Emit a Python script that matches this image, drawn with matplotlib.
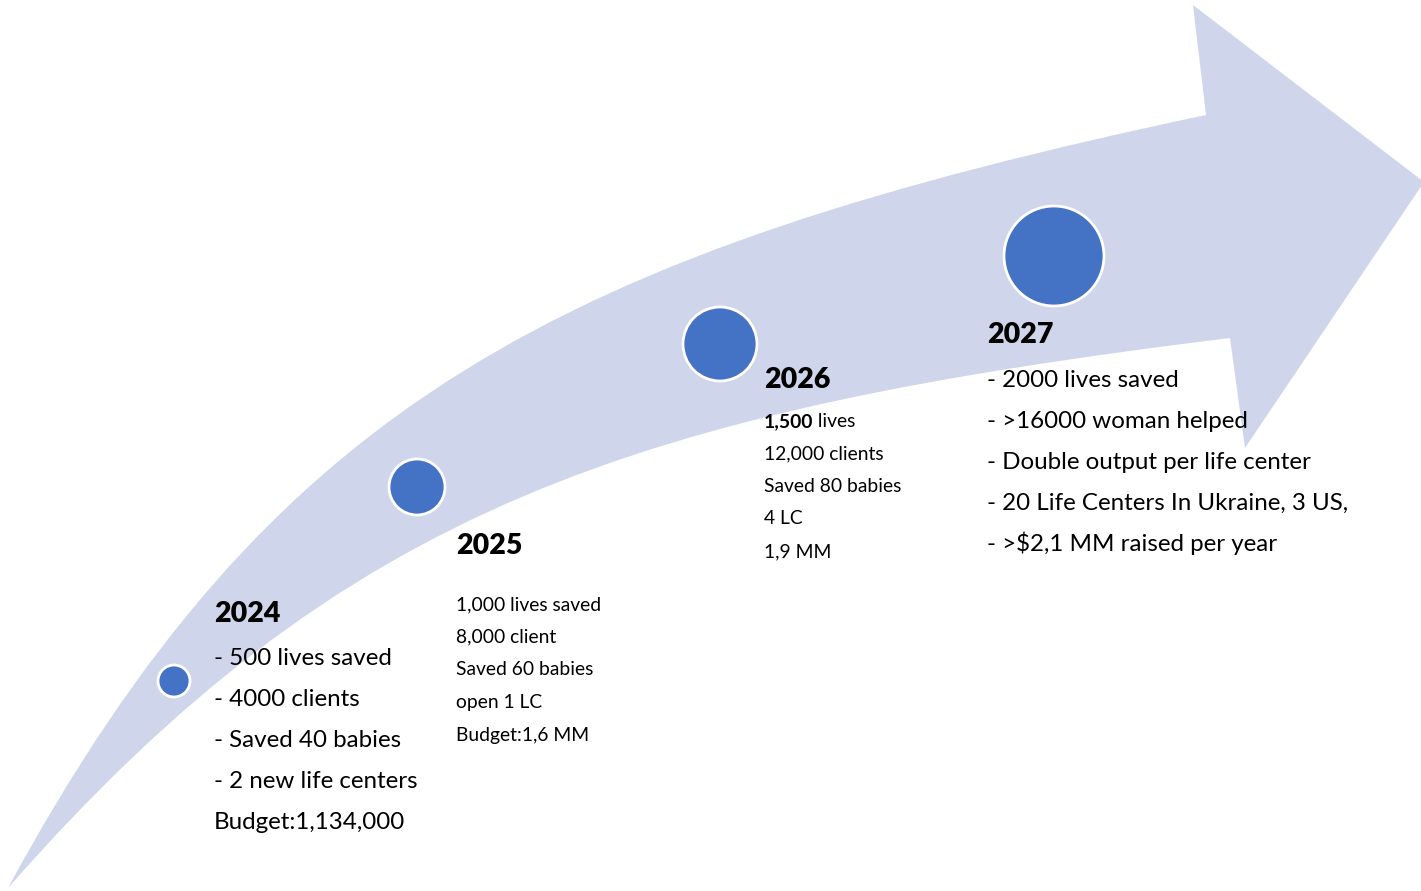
import matplotlib.pyplot as plt
from matplotlib.path import Path
from matplotlib.patches import PathPatch, Circle

plt.rcParams['font.family'] = ['Lato', 'DejaVu Sans']

# roadmap content
years = ['2024', '2025', '2026', '2027']
goals_2024 = ['- 500 lives saved', '- 4000 clients', '- Saved 40 babies',
              '- 2 new life centers', 'Budget:1,134,000']
goals_2025 = ['1,000 lives saved', '8,000 client', 'Saved 60 babies',
              'open 1 LC', 'Budget:1,6 MM']
goals_2026 = ['1,500| lives', '12,000 clients', 'Saved 80 babies', '4 LC', '1,9 MM']
goals_2027 = ['- 2000 lives saved', '- >16000 woman helped',
              '- Double output per life center',
              '- 20 Life Centers In Ukraine, 3 US,', '- >$2,1 MM raised per year']
goals = [goals_2024, goals_2025, goals_2026, goals_2027]

# layout (pixel space)
dot_x = [174, 417, 720, 1054]
dot_y = [681, 487, 344, 256]
dot_r = [16, 28, 37, 50]
head_x = [214, 456, 764, 987]
head_y = [622, 554, 388, 343]
body_y0 = [665, 610, 427, 387]
body_dy = [41, 32.7, 32.5, 41]
body_fs = [17.4, 13.9, 13.9, 17.4]

arrow_col = '#CFD5EA'
dot_col = '#4472C4'

fig = plt.figure(figsize=(14.21, 8.91), dpi=100)
ax = fig.add_axes([0, 0, 1, 1])
ax.set_xlim(0, 1421)
ax.set_ylim(891, 0)
ax.axis('off')

# curved arrow
verts = [(8, 888),
         (270, 405), (558, 252), (1206, 115),
         (1193, 5), (1424, 182), (1245, 448), (1230, 338),
         (636, 411), (344, 505), (8, 888)]
codes = [Path.MOVETO,
         Path.CURVE4, Path.CURVE4, Path.CURVE4,
         Path.LINETO, Path.LINETO, Path.LINETO, Path.LINETO,
         Path.CURVE4, Path.CURVE4, Path.CURVE4]
ax.add_patch(PathPatch(Path(verts, codes), facecolor=arrow_col, edgecolor='none', zorder=1))

for x, y, r in zip(dot_x, dot_y, dot_r):
    ax.add_patch(Circle((x, y), r, facecolor=dot_col, edgecolor='white', lw=2, zorder=3))

for i, yr in enumerate(years):
    ax.text(head_x[i], head_y[i], yr, fontsize=20.5, fontweight='heavy',
            va='baseline', ha='left', zorder=4)
    for j, line in enumerate(goals[i]):
        y = body_y0[i] + j * body_dy[i]
        if '|' in line:
            bold, rest = line.split('|')
            t = ax.text(head_x[i], y, bold, fontsize=body_fs[i], fontweight='bold',
                        va='baseline', ha='left', zorder=4)
            ax.annotate(rest, xy=(1, 0), xycoords=t, fontsize=body_fs[i],
                        va='bottom', ha='left', zorder=4)
        else:
            ax.text(head_x[i], y, line, fontsize=body_fs[i],
                    va='baseline', ha='left', zorder=4)

fig.savefig('out.png', dpi=100)
